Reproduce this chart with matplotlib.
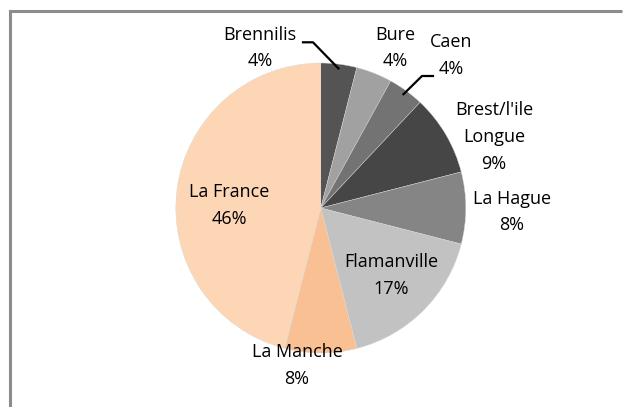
import numpy as np
from matplotlib import pyplot as plt

# parts of the waste, clockwise from the top
sites = ['Brennilis', 'Bure', 'Caen', "Brest/l'ile\nLongue", 'La Hague',
         'Flamanville', 'La Manche', 'La France']
parts = [4, 4, 4, 9, 8, 17, 8, 46]
colors = ['#545454', '#a1a1a1', '#737373', '#464646', '#858585',
          '#c2c2c2', '#f9c193', '#fcd6b5']

W, H = 623, 407
fig = plt.figure(figsize=(W / 100, H / 100), dpi=100)
ax = fig.add_axes([0, 0, 1, 1])

cx, cy, r = 320.8, H - 208, 145
wedges, _ = ax.pie(parts, colors=colors, startangle=90, counterclock=False,
                   center=(cx, cy), radius=r, frame=True,
                   wedgeprops=dict(linewidth=0.3, edgecolor='#d8d8d8'))
ax.set_xlim(0, W)
ax.set_ylim(0, H)
ax.set_aspect('auto')
ax.axis('off')

# cadre gris (coupé à droite et en bas)
ax.plot([9.7, 9.7, W - 1.5], [0, H - 11.2, H - 11.2], color='#8c8c8c',
        linewidth=2.2, solid_joinstyle='miter', solid_capstyle='butt')

# position des étiquettes (pixels depuis le haut)
label_pos = [(260, 48), (395, 48), (451.5, 55.5), (494, 137), (512, 212),
             (391, 275.5), (297, 365.5), (229.5, 205.5)]
for site, p, (lx, ly) in zip(sites, parts, label_pos):
    ax.text(lx, H - ly, '%s\n%d%%' % (site, p), ha='center', va='center',
            fontsize=13, family='Open Sans', color='black',
            linespacing=1.62)

# lignes de rappel : Brennilis et Caen
leaders = {0: [(313, 42.3), (303, 42.3)], 2: [(422, 76), (433, 76)]}
for i, pts in leaders.items():
    w = wedges[i]
    ang = np.deg2rad((w.theta1 + w.theta2) / 2)
    x0 = cx + 0.97 * r * np.cos(ang)
    y0 = cy + 0.97 * r * np.sin(ang)
    xs = [x0] + [p[0] for p in pts]
    ys = [y0] + [H - p[1] for p in pts]
    ax.plot(xs, ys, color='black', linewidth=1.6)

plt.savefig('out.png')
